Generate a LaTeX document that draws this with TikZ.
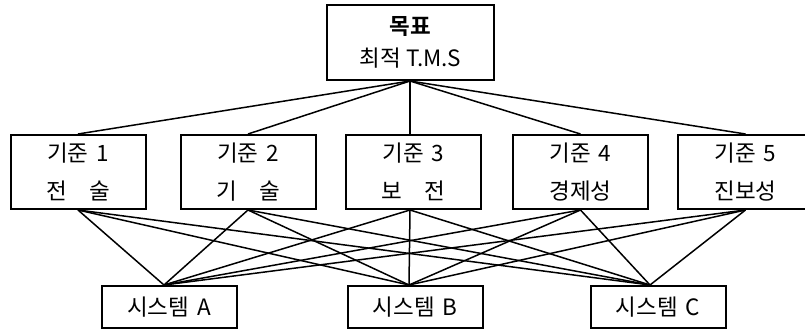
\documentclass[tikz,border=0pt]{standalone}
\usepackage{fontspec}
\setmainfont{Noto Sans CJK KR}
\newfontfamily\krbold{Noto Sans CJK KR Bold}
\begin{document}
\begin{tikzpicture}[x=1pt,y=-1pt,
  box/.style={draw,line width=2pt,rectangle,inner sep=0pt,align=center,
    font=\fontsize{22.5}{38}\selectfont},
  crit/.style={box,minimum width=135pt,minimum height=74pt},
  sys/.style={box,minimum width=135pt,minimum height=42pt},
  link/.style={line width=1.5pt}]
\clip (0,0) rectangle (805,331);
\fill[white] (0,0) rectangle (805,331);
\node[box,minimum width=167pt,minimum height=75pt,font=\fontsize{22.5}{32}\selectfont] (goal) at (410.5,42.5) {{\krbold 목표}\\최적 T.M.S};
\node[crit] (c1) at (78,172) {기준\hspace{0.35em}1\\전\hspace{1em}술};
\node[crit] (c2) at (248,172) {기준\hspace{0.35em}2\\기\hspace{1em}술};
\node[crit] (c3) at (413.5,172) {기준\hspace{0.35em}3\\보\hspace{1em}전};
\node[crit] (c4) at (580.5,172) {기준\hspace{0.35em}4\\경제성};
\node[crit] (c5) at (745.5,172) {기준\hspace{0.35em}5\\진보성};
\node[sys] (sA) at (169,307) {시스템\hspace{0.35em}A};
\node[sys] (sB) at (415,307) {시스템\hspace{0.35em}B};
\node[sys] (sC) at (658,307) {시스템\hspace{0.35em}C};
\coordinate (gb) at ([xshift=-0.5pt]goal.south);
\coordinate (tA) at ([xshift=-5pt]sA.north);
\coordinate (tB) at ([xshift=-6pt]sB.north);
\coordinate (tC) at ([xshift=-8pt]sC.north);
\coordinate (b3) at ([xshift=-3.5pt]c3.south);
\coordinate (t3) at ([xshift=-3.5pt]c3.north);
\foreach \c in {c1,c2,c4,c5} {
  \draw[link] (gb) -- (\c.north);
}
\draw[link] (gb) -- (t3);
\foreach \c in {c1,c2,c4,c5} {
  \foreach \s in {tA,tB,tC} {
    \draw[link] (\c.south) -- (\s);
  }
}
\foreach \s in {tA,tB,tC} {
  \draw[link] (b3) -- (\s);
}
\end{tikzpicture}
\end{document}
